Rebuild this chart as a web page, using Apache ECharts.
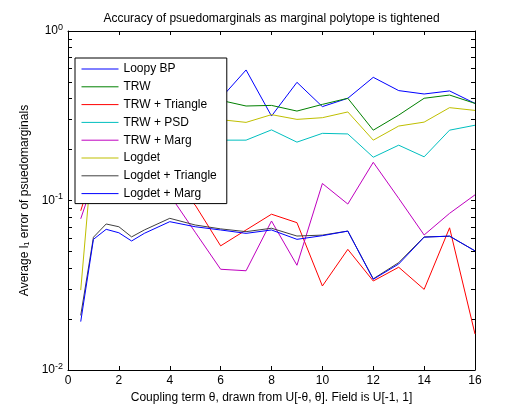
<!DOCTYPE html>
<html>
<head>
<meta charset="utf-8">
<title>Accuracy of psuedomarginals</title>
<script src="https://cdn.jsdelivr.net/npm/echarts@6/dist/echarts.min.js"></script>
<style>
    html, body { margin: 0; padding: 0; background: #fff; }
    #chart { width: 525px; height: 416px; }
</style>
</head>
<body>
<div id="chart"></div>
<script>
    // x positions (coupling term)
    var xValues = [0.5, 1, 1.5, 2, 2.5, 3, 4, 5, 6, 7, 8, 9, 10, 11, 12, 13, 14, 15, 16];

    // series values
    var loopyBP      = [0.12, 0.33, 0.38, 0.40, 0.38, 0.40, 0.43, 0.41, 0.40, 0.589, 0.315, 0.498, 0.358, 0.401, 0.533, 0.445, 0.425, 0.443, 0.374];
    var trw          = [0.11, 0.31, 0.36, 0.37, 0.36, 0.37, 0.39, 0.38, 0.39, 0.361, 0.364, 0.337, 0.369, 0.401, 0.26, 0.319, 0.401, 0.419, 0.374];
    var trwTriangle  = [0.087, 0.15, 0.16, 0.155, 0.145, 0.145, 0.13, 0.094, 0.054, 0.067, 0.083, 0.074, 0.0313, 0.0515, 0.0335, 0.0404, 0.0299, 0.069, 0.0163];
    var trwPSD       = [0.096, 0.2, 0.215, 0.225, 0.22, 0.225, 0.235, 0.23, 0.227, 0.227, 0.261, 0.221, 0.249, 0.247, 0.18, 0.212, 0.181, 0.26, 0.278];
    var trwMarg      = [0.078, 0.13, 0.14, 0.145, 0.14, 0.14, 0.108, 0.065, 0.0393, 0.0385, 0.0757, 0.0415, 0.126, 0.0953, 0.168, 0.103, 0.0626, 0.084, 0.108];
    var logdet       = [0.0296, 0.22, 0.26, 0.27, 0.26, 0.27, 0.29, 0.29, 0.30, 0.289, 0.321, 0.301, 0.308, 0.333, 0.227, 0.275, 0.29, 0.353, 0.34];
    var logdetTri    = [0.021, 0.0607, 0.0727, 0.070, 0.061, 0.067, 0.0785, 0.0717, 0.068, 0.0655, 0.0686, 0.0617, 0.0625, 0.066, 0.0345, 0.043, 0.061, 0.0615, 0.0505];
    var logdetMarg   = [0.0193, 0.059, 0.0676, 0.0645, 0.0577, 0.064, 0.075, 0.070, 0.067, 0.064, 0.067, 0.059, 0.062, 0.066, 0.0343, 0.0422, 0.0607, 0.0617, 0.0504];

    var seriesNames = ['Loopy BP', 'TRW', 'TRW + Triangle', 'TRW + PSD', 'TRW + Marg', 'Logdet', 'Logdet + Triangle', 'Logdet + Marg'];
    var seriesValues = [loopyBP, trw, trwTriangle, trwPSD, trwMarg, logdet, logdetTri, logdetMarg];
    var seriesColors = ['#0000ff', '#008000', '#ff0000', '#00bfbf', '#bf00bf', '#bfbf00', '#404040', '#0000ff'];

    // tick labels / tick marks
    var yLabelValues = [0.01, 0.1, 1];
    var yTickValues = [0.01, 0.02, 0.03, 0.04, 0.05, 0.06, 0.07, 0.08, 0.09,
                       0.1, 0.2, 0.3, 0.4, 0.5, 0.6, 0.7, 0.8, 0.9, 1];

    var font = 'Liberation Sans, Arial, Helvetica, sans-serif';

    var myChart = echarts.init(document.getElementById('chart'));

    var series = seriesNames.map(function (name, k) {
        return {
            name: name,
            type: 'line',
            symbol: 'none',
            xAxisIndex: 0,
            yAxisIndex: 0,
            lineStyle: { width: 1, color: seriesColors[k] },
            itemStyle: { color: seriesColors[k] },
            data: xValues.map(function (x, i) { return [x, seriesValues[k][i]]; })
        };
    });

    var xBase = {
        type: 'value',
        min: 0,
        max: 16,
        interval: 2,
        axisLine: { onZero: false, lineStyle: { color: '#000', width: 1 } },
        axisTick: { inside: true, length: 4, lineStyle: { color: '#000' } },
        splitLine: { show: false }
    };
    var yBase = {
        type: 'log',
        logBase: 10,
        min: 0.01,
        max: 1,
        axisLine: { onZero: false, lineStyle: { color: '#000', width: 1 } },
        axisTick: { inside: true, length: 4, customValues: yTickValues, lineStyle: { color: '#000' } },
        splitLine: { show: false },
        minorSplitLine: { show: false }
    };

    myChart.setOption({
        animation: false,
        backgroundColor: '#fff',
        textStyle: { fontFamily: font },
        grid: { left: 68, right: 50, top: 31, bottom: 46 },
        legend: {
            data: seriesNames,
            orient: 'vertical',
            left: 75,
            top: 58,
            itemWidth: 37,
            itemHeight: 12,
            itemGap: 5.8,
            padding: [5, 10, 4, 6],
            backgroundColor: '#fff',
            borderColor: '#000',
            borderWidth: 1,
            borderRadius: 0,
            selectedMode: false,
            // line only, no marker
            itemStyle: { opacity: 0 },
            lineStyle: { width: 1 },
            textStyle: { fontSize: 12, color: '#000', fontFamily: font }
        },
        xAxis: [
            Object.assign({}, xBase, {
                position: 'bottom',
                name: 'Coupling term θ, drawn from U[-θ, θ]. Field is U[-1, 1]',
                nameLocation: 'middle',
                nameGap: 20,
                nameTextStyle: { fontSize: 12, color: '#000', fontFamily: font },
                axisLabel: { margin: 5, fontSize: 12, color: '#000', fontFamily: font }
            }),
            Object.assign({}, xBase, {
                position: 'top',
                name: 'Accuracy of psuedomarginals as marginal polytope is tightened',
                nameLocation: 'middle',
                nameGap: 6,
                nameTextStyle: { fontSize: 12, color: '#000', fontFamily: font },
                axisLabel: { show: false }
            })
        ],
        yAxis: [
            Object.assign({}, yBase, {
                position: 'left',
                name: 'Average l₁ error of psuedomarginals',
                nameLocation: 'middle',
                nameGap: 34,
                nameTextStyle: { fontSize: 12, color: '#000', fontFamily: font },
                axisLabel: {
                    margin: 5,
                    customValues: yLabelValues,
                    color: '#000',
                    fontSize: 12,
                    fontFamily: font,
                    formatter: function (v) {
                        return '10{sup|' + Math.round(Math.log10(v)) + '}';
                    },
                    rich: {
                        sup: { fontSize: 9, verticalAlign: 'top', padding: [0, 0, 7, 0], color: '#000', fontFamily: font }
                    }
                }
            }),
            Object.assign({}, yBase, {
                position: 'right',
                axisLabel: { show: false }
            })
        ],
        series: series
    });
</script>
</body>
</html>
